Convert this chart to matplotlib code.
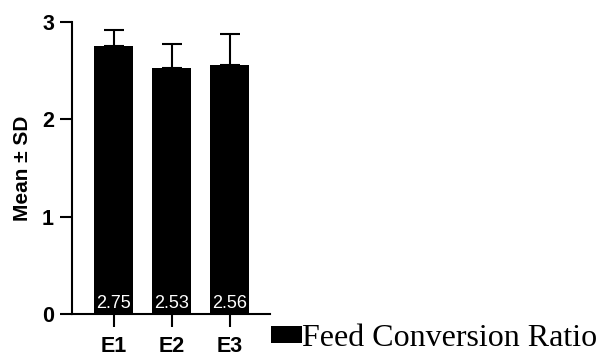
import matplotlib
matplotlib.use("Agg")
import matplotlib.pyplot as plt

groups = ["E1", "E2", "E3"]
means = [2.75, 2.53, 2.56]
sds = [0.17, 0.24, 0.32]
series_name = "Feed Conversion Ratio"

plt.rcParams['font.family'] = ['Liberation Sans', 'DejaVu Sans']

fig = plt.figure(figsize=(6, 3.58), dpi=100)
ax = fig.add_axes([0.12, 0.123, 0.33, 0.816])

x = list(range(len(groups)))
bars = ax.bar(x, means, width=0.67, color="black", label=series_name, zorder=2)
ax.errorbar(x, means, yerr=[[0] * len(sds), sds], fmt="none", ecolor="black",
            elinewidth=1.5, capsize=7.5, capthick=1.5, zorder=1)

for xi, v in zip(x, means):
    ax.text(xi, 0.065, f"{v:.2f}", color="white", ha="center", va="baseline",
            fontsize=13, zorder=3)

ax.set_xlim(-0.72, 2.69)
ax.set_ylim(0, 3)
ax.set_yticks([0, 1, 2, 3])
ax.set_xticks(x)
ax.set_xticklabels(groups)
ax.set_ylabel("Mean ± SD", fontsize=15, fontweight="bold", labelpad=7)

for s in ["top", "right"]:
    ax.spines[s].set_visible(False)
for s in ["left", "bottom"]:
    ax.spines[s].set_linewidth(1.5)
ax.tick_params(width=1.5, length=9, labelsize=15.5)
ax.tick_params(axis="x", pad=7)
ax.tick_params(axis="y", pad=4)
for lab in ax.get_xticklabels() + ax.get_yticklabels():
    lab.set_fontweight("bold")

ax.legend(handles=[bars], labels=[series_name], loc="lower left",
          bbox_to_anchor=(266 / 600, 0.0), bbox_transform=fig.transFigure,
          frameon=False, handlelength=0.97, handleheight=0.45, handletextpad=0.0,
          borderpad=0.15, borderaxespad=0.0,
          prop={"family": "Liberation Serif", "size": 23})

fig.savefig("out.png", dpi=100)
